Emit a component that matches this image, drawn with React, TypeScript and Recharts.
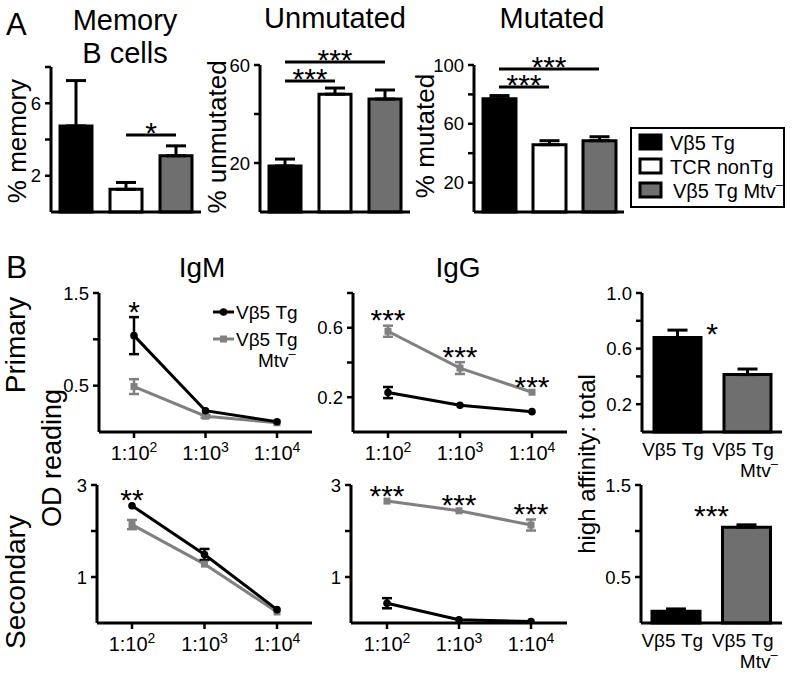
import React from "react";
import {
  BarChart, Bar, Cell, LineChart, Line, XAxis, YAxis, ErrorBar, ReferenceLine, ReferenceDot,
} from "recharts";

const FONT = '"Liberation Sans", Arial, Helvetica, sans-serif';
const GRAY_BAR = "#6f6f6f";
const GRAY_LINE = "#808080";
const STAR = 30;

// ---- A: B cell subsets ----
const groups = ["Vβ5 Tg", "TCR nonTg", "Vβ5 Tg Mtv⁻"];
const groupFill = ["#000000", "#ffffff", GRAY_BAR];
const memoryMean = [4.75, 1.25, 3.1];
const memoryErr = [2.5, 0.38, 0.55];
const unmutatedMean = [18.8, 48.1, 46.1];
const unmutatedErr = [2.8, 2.5, 3.7];
const mutatedMean = [77, 45.8, 48.5];
const mutatedErr = [2.2, 2.7, 2.7];

// brackets: [from group, to group, height, stars, draw line]
const memorySig = [[1, 2, 4.25, "*", true]];
const unmutatedSig = [[0, 2, 61.2, "***", true], [0, 1, 53.5, "***", true]];
const mutatedSig = [[0, 2, 97.3, "***", true], [0, 1, 85.1, "***", true]];

// ---- B: ELISA ----
const series = ["Vβ5 Tg", "Vβ5 Tg Mtv⁻"];
const dilutions = ["1:10^2", "1:10^3", "1:10^4"];

const igmPrimaryTg = [1.04, 0.23, 0.11];
const igmPrimaryTgErr = [0.2, null, null];
const igmPrimaryMtv = [0.49, 0.17, 0.1];
const igmPrimaryMtvErr = [0.08, 0.015, null];
const igmPrimarySig = ["*", "", ""];

const iggPrimaryTg = [0.227, 0.154, 0.117];
const iggPrimaryTgErr = [0.032, null, null];
const iggPrimaryMtv = [0.58, 0.368, 0.229];
const iggPrimaryMtvErr = [0.032, 0.034, null];
const iggPrimarySig = ["***", "***", "***"];

const igmSecondaryTg = [2.55, 1.49, 0.29];
const igmSecondaryTgErr = [null, 0.12, null];
const igmSecondaryMtv = [2.14, 1.28, 0.24];
const igmSecondaryMtvErr = [0.1, null, null];
const igmSecondarySig = ["**", "", ""];

const iggSecondaryTg = [0.43, 0.07, 0.03];
const iggSecondaryTgErr = [0.11, null, null];
const iggSecondaryMtv = [2.65, 2.44, 2.13];
const iggSecondaryMtvErr = [null, null, 0.12];
const iggSecondarySig = ["***", "***", "***"];

const affinityFill = ["#000000", GRAY_BAR];
const primaryAffinity = [0.68, 0.413];
const primaryAffinityErr = [0.053, 0.04];
const primaryAffinitySig = [[0, 1, 0.76, "*", false]];
const secondaryAffinity = [0.128, 1.042];
const secondaryAffinityErr = [0.025, 0.025];
const secondaryAffinitySig = [[0, 1, 1.25, "***", false]];

// ---- layout helpers ----
const ML = 50, MT = 30, MR = 14, MB = 60;

function frame(b) {
  return {
    style: { position: "absolute", left: b.x0 - ML, top: b.y0 - MT },
    width: b.x1 - b.x0 + ML + MR,
    height: b.y1 - b.y0 + MT + MB,
    margin: { top: MT, right: MR, bottom: 0, left: 0 },
  };
}

const axisLine = { stroke: "#000", strokeWidth: 3 };
const tickLine = { stroke: "#000", strokeWidth: 2.5 };

const yTick = (labels, fmt) => (p) =>
  labels.includes(p.payload.value) ? (
    <text x={p.x} y={p.y} dy={6.5} textAnchor="end" fontSize={18.5} fontFamily={FONT} fill="#000">
      {fmt(p.payload.value)}
    </text>
  ) : <g />;

function SupMinus({ size }) {
  return <tspan fontSize={size} dy={-9}>–</tspan>;
}

const starAt = (text, lift) => (p) => {
  const vb = p.viewBox || {};
  const cx = (vb.x || 0) + (vb.width || 0) / 2;
  const cy = (vb.y || 0) - lift;
  return (
    <text x={cx} y={cy + 0.59 * STAR} textAnchor="middle" fontSize={STAR} fontFamily={FONT} fill="#000">
      {text}
    </text>
  );
};

function dilTick(p) {
  const [base, exp] = String(p.payload.value).split("^");
  return (
    <text x={p.x} y={p.y} textAnchor="middle" fontSize={20} fontFamily={FONT} fill="#000">
      <tspan dy={20}>{base}</tspan>
      <tspan fontSize={14} dy={-8}>{exp}</tspan>
    </text>
  );
}

function groupTick(p) {
  const v = String(p.payload.value);
  const i = v.indexOf(" Mtv");
  const first = i >= 0 ? v.slice(0, i) : v;
  return (
    <g>
      <text x={p.x - 4} y={p.y + 24} textAnchor="middle" fontSize={19} fontFamily={FONT} fill="#000">{first}</text>
      {i >= 0 && (
        <text x={p.x + 12} y={p.y + 45} textAnchor="middle" fontSize={19} fontFamily={FONT} fill="#000">
          Mtv<SupMinus size={13} />
        </text>
      )}
    </g>
  );
}

const roundDot = (p) => <circle key={`c${p.index}`} cx={p.cx} cy={p.cy} r={3.8} fill="#000" />;
const squareDot = (p) => (
  <rect key={`s${p.index}`} x={p.cx - 3.5} y={p.cy - 3.5} width={7} height={7} fill={GRAY_LINE} />
);

function GroupBars({ box, cats, means, errs, fills, domain, ticks, labels, fmt, sig, barSize, catTicks }) {
  const rows = cats.map((c, i) => ({ group: c, mean: means[i], err: [0, errs[i]] }));
  return (
    <BarChart {...frame(box)} data={rows}>
      <XAxis
        dataKey="group"
        axisLine={axisLine}
        tickLine={false}
        tickSize={0}
        tickMargin={0}
        tick={catTicks ? groupTick : false}
        height={MB}
        interval={0}
      />
      <YAxis
        type="number"
        domain={domain}
        ticks={ticks}
        interval={0}
        width={ML}
        axisLine={axisLine}
        tickLine={tickLine}
        tickSize={6}
        tickMargin={4}
        tick={yTick(labels, fmt)}
      />
      <Bar dataKey="mean" barSize={barSize} stroke="#000" strokeWidth={3} isAnimationActive={false}>
        {rows.map((r, i) => <Cell key={r.group} fill={fills[i]} />)}
        <ErrorBar dataKey="err" width={10} strokeWidth={3} stroke="#000" direction="y" />
      </Bar>
      {sig.map(([a, b, y, s, drawn]) => (
        <ReferenceLine
          key={`${a}-${b}-${y}`}
          segment={[{ x: cats[a], y }, { x: cats[b], y }]}
          stroke={drawn ? "#000" : "none"}
          strokeWidth={3}
          ifOverflow="visible"
          label={starAt(s, drawn ? 10 : 0)}
        />
      ))}
    </BarChart>
  );
}

function Dilution({ box, tg, tgErr, mtv, mtvErr, sig, domain, ticks, labels, pad }) {
  const rows = dilutions.map((d, i) => ({ dil: d, tg: tg[i], tgErr: tgErr[i], mtv: mtv[i], mtvErr: mtvErr[i] }));
  return (
    <LineChart {...frame(box)} data={rows}>
      <XAxis
        dataKey="dil"
        padding={{ left: pad, right: pad }}
        axisLine={axisLine}
        tickLine={tickLine}
        tickSize={6}
        tickMargin={2}
        tick={dilTick}
        height={MB}
        interval={0}
      />
      <YAxis
        type="number"
        domain={domain}
        ticks={ticks}
        interval={0}
        width={ML}
        axisLine={axisLine}
        tickLine={tickLine}
        tickSize={6}
        tickMargin={4}
        tick={yTick(labels, (v) => String(v))}
        allowDataOverflow
      />
      <Line type="linear" dataKey="mtv" stroke={GRAY_LINE} strokeWidth={3} dot={squareDot} activeDot={false} isAnimationActive={false}>
        <ErrorBar dataKey="mtvErr" width={5} strokeWidth={2.5} stroke={GRAY_LINE} direction="y" />
      </Line>
      <Line type="linear" dataKey="tg" stroke="#000" strokeWidth={3} dot={roundDot} activeDot={false} isAnimationActive={false}>
        <ErrorBar dataKey="tgErr" width={5} strokeWidth={2.5} stroke="#000" direction="y" />
      </Line>
      {rows.map((r, i) =>
        sig[i] ? (
          <ReferenceDot
            key={r.dil}
            x={r.dil}
            y={Math.max(r.tg + (r.tgErr || 0), r.mtv + (r.mtvErr || 0))}
            r={0}
            fill="none"
            stroke="none"
            ifOverflow="visible"
            label={starAt(sig[i], 13)}
          />
        ) : null
      )}
    </LineChart>
  );
}

function T({ x, y, size, children, anchor = "middle", rotate = false }) {
  return (
    <text
      x={x}
      y={y}
      fontSize={size}
      fontFamily={FONT}
      fill="#000"
      textAnchor={anchor}
      transform={rotate ? `rotate(-90 ${x} ${y})` : undefined}
    >
      {children}
    </text>
  );
}

export default function App() {
  return (
    <div style={{ position: "absolute", left: 0, top: 0, width: 793, height: 676, background: "#fff", overflow: "hidden" }}>
      <GroupBars box={{ x0: 51, x1: 201, y0: 67, y1: 212 }} cats={groups} means={memoryMean} errs={memoryErr}
        fills={groupFill} domain={[0, 8]} ticks={[2, 4, 6, 8]} labels={[2, 6]} fmt={String} sig={memorySig} barSize={32} />
      <GroupBars box={{ x0: 260, x1: 410, y0: 65, y1: 212 }} cats={groups} means={unmutatedMean} errs={unmutatedErr}
        fills={groupFill} domain={[0, 60]} ticks={[20, 40, 60]} labels={[20, 60]} fmt={String} sig={unmutatedSig} barSize={32} />
      <GroupBars box={{ x0: 474, x1: 624, y0: 65, y1: 212 }} cats={groups} means={mutatedMean} errs={mutatedErr}
        fills={groupFill} domain={[0, 100]} ticks={[20, 40, 60, 80, 100]} labels={[20, 60, 100]} fmt={String} sig={mutatedSig} barSize={33} />

      <Dilution box={{ x0: 99, x1: 312, y0: 293, y1: 432 }} tg={igmPrimaryTg} tgErr={igmPrimaryTgErr} mtv={igmPrimaryMtv}
        mtvErr={igmPrimaryMtvErr} sig={igmPrimarySig} domain={[0, 1.5]} ticks={[0.5, 1, 1.5]} labels={[0.5, 1.5]} pad={35} />
      <Dilution box={{ x0: 353, x1: 567, y0: 293, y1: 432 }} tg={iggPrimaryTg} tgErr={iggPrimaryTgErr} mtv={iggPrimaryMtv}
        mtvErr={iggPrimaryMtvErr} sig={iggPrimarySig} domain={[0, 0.8]} ticks={[0.2, 0.4, 0.6, 0.8]} labels={[0.2, 0.6]} pad={35} />
      <Dilution box={{ x0: 97, x1: 312, y0: 485, y1: 623 }} tg={igmSecondaryTg} tgErr={igmSecondaryTgErr} mtv={igmSecondaryMtv}
        mtvErr={igmSecondaryMtvErr} sig={igmSecondarySig} domain={[0, 3]} ticks={[1, 2, 3]} labels={[1, 3]} pad={35} />
      <Dilution box={{ x0: 351, x1: 567, y0: 485, y1: 623 }} tg={iggSecondaryTg} tgErr={iggSecondaryTgErr} mtv={iggSecondaryMtv}
        mtvErr={iggSecondaryMtvErr} sig={iggSecondarySig} domain={[0, 3]} ticks={[1, 2, 3]} labels={[1, 3]} pad={36} />

      <GroupBars box={{ x0: 642, x1: 782, y0: 293, y1: 432 }} cats={series} means={primaryAffinity} errs={primaryAffinityErr}
        fills={affinityFill} domain={[0, 1]} ticks={[0.2, 0.4, 0.6, 0.8, 1]} labels={[0.2, 0.6, 1]} fmt={(v) => v.toFixed(1)}
        sig={primaryAffinitySig} barSize={47} catTicks />
      <GroupBars box={{ x0: 641, x1: 782, y0: 485, y1: 623 }} cats={series} means={secondaryAffinity} errs={secondaryAffinityErr}
        fills={affinityFill} domain={[0, 1.5]} ticks={[0.5, 1, 1.5]} labels={[0.5, 1.5]} fmt={String}
        sig={secondaryAffinitySig} barSize={48} catTicks />

      <svg width={793} height={676} style={{ position: "absolute", left: 0, top: 0, pointerEvents: "none" }}>
        <T x={6} y={35} size={31} anchor="start">A</T>
        <T x={125} y={30} size={29}>Memory</T>
        <T x={125} y={63} size={29}>B cells</T>
        <T x={335} y={28} size={29}>Unmutated</T>
        <T x={552} y={28} size={29}>Mutated</T>
        <T x={26} y={141} size={26} rotate>% memory</T>
        <T x={226} y={137} size={26} rotate>% unmutated</T>
        <T x={434} y={136} size={26} rotate>% mutated</T>

        <rect x={631} y={128} width={153} height={79} fill="#fff" stroke="#000" strokeWidth={2} />
        {groups.map((g, i) => {
          const cy = 142 + i * 24;
          const k = g.indexOf("⁻");
          return (
            <g key={g}>
              <rect x={640} y={cy - 7} width={21} height={14} fill={groupFill[i]} stroke="#000" strokeWidth={3} />
              <text x={670 + (i === 2 ? 3 : 0)} y={cy + 8} fontSize={20} fontFamily={FONT} fill="#000">
                {k >= 0 ? g.slice(0, k) : g}
                {k >= 0 && <SupMinus size={13} />}
              </text>
            </g>
          );
        })}

        <T x={6} y={278} size={32} anchor="start">B</T>
        <T x={202} y={277} size={28}>IgM</T>
        <T x={458} y={277} size={28}>IgG</T>
        <T x={25} y={345} size={28} rotate>Primary</T>
        <T x={61} y={458} size={27} rotate>OD reading</T>
        <T x={25} y={582} size={28} rotate>Secondary</T>
        <T x={595} y={464} size={24} rotate>high affinity: total</T>

        {series.map((s, i) => {
          const cy = 312 + i * 27;
          const k = s.indexOf(" Mtv");
          return (
            <g key={s}>
              <line x1={213} x2={234} y1={cy} y2={cy} stroke={i ? GRAY_LINE : "#000"} strokeWidth={3} />
              {i ? <rect x={220} y={cy - 3.5} width={7} height={7} fill={GRAY_LINE} /> : <circle cx={223.5} cy={cy} r={3.8} fill="#000" />}
              <text x={236} y={cy + 7} fontSize={19} fontFamily={FONT} fill="#000">{k >= 0 ? s.slice(0, k) : s}</text>
              {k >= 0 && (
                <text x={258} y={cy + 28} fontSize={19} fontFamily={FONT} fill="#000">
                  Mtv<SupMinus size={13} />
                </text>
              )}
            </g>
          );
        })}
      </svg>
    </div>
  );
}
